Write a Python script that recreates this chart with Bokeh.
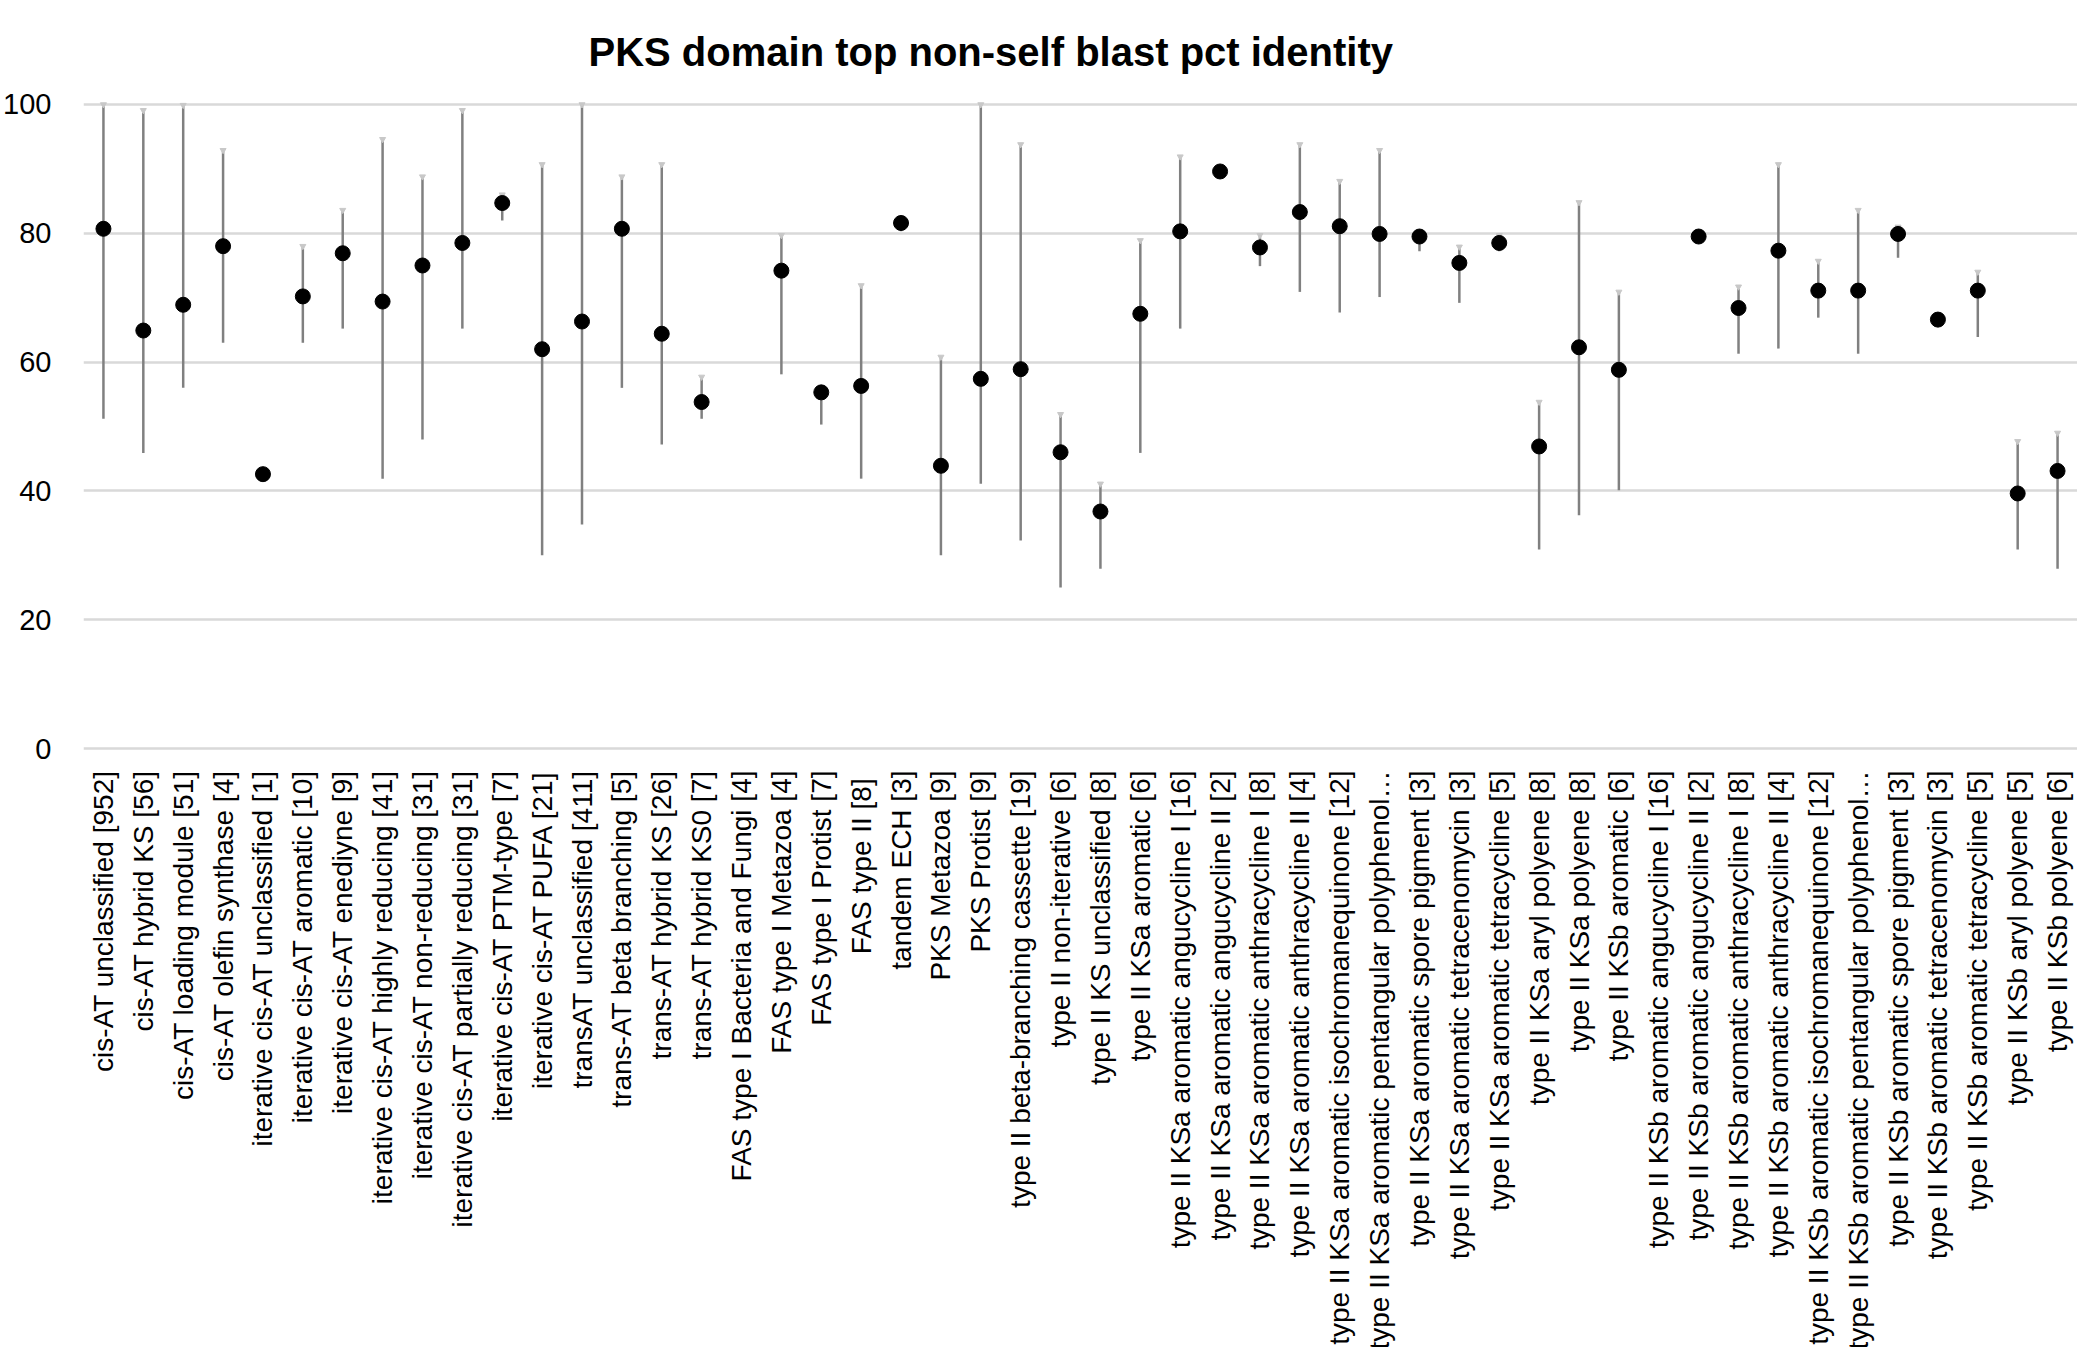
import math
from bokeh.plotting import figure
from bokeh.models import ColumnDataSource, FixedTicker, Range1d, FactorRange
from bokeh.embed import file_html
from bokeh.resources import INLINE

nan = float("nan")

title_text = "PKS domain top non-self blast pct identity"

categories = [
    "cis-AT unclassified [952]", "cis-AT hybrid KS [56]", "cis-AT loading module [51]",
    "cis-AT olefin synthase [4]", "iterative cis-AT unclassified [1]", "iterative cis-AT aromatic [10]",
    "iterative cis-AT enediyne [9]", "iterative cis-AT highly reducing [41]",
    "iterative cis-AT non-reducing [31]", "iterative cis-AT partially reducing [31]",
    "iterative cis-AT PTM-type [7]", "iterative cis-AT PUFA [21]", "transAT unclassified [411]",
    "trans-AT beta branching [5]", "trans-AT hybrid KS [26]", "trans-AT hybrid KS0 [7]",
    "FAS type I Bacteria and Fungi [4]", "FAS type I Metazoa [4]", "FAS type I Protist [7]",
    "FAS type II  [8]", "tandem ECH [3]", "PKS Metazoa [9]", "PKS Protist [9]",
    "type II beta-branching cassette [19]", "type II non-iterative [6]", "type II KS unclassified [8]",
    "type II KSa aromatic [6]", "type II KSa aromatic angucycline I [16]",
    "type II KSa aromatic angucycline II [2]", "type II KSa aromatic anthracycline I [8]",
    "type II KSa aromatic anthracycline II [4]", "type II KSa aromatic isochromanequinone [12]",
    "type II KSa aromatic pentangular polyphenol\u2026", "type II KSa aromatic spore pigment [3]",
    "type II KSa aromatic tetracenomycin [3]", "type II KSa aromatic tetracycline [5]",
    "type II KSa aryl polyene [8]", "type II KSa polyene [8]", "type II KSb aromatic [6]",
    "type II KSb aromatic angucycline I [16]", "type II KSb aromatic angucycline II [2]",
    "type II KSb aromatic anthracycline I [8]", "type II KSb aromatic anthracycline II [4]",
    "type II KSb aromatic isochromanequinone [12]", "type II KSb aromatic pentangular polyphenol\u2026",
    "type II KSb aromatic spore pigment [3]", "type II KSb aromatic tetracenomycin [3]",
    "type II KSb aromatic tetracycline [5]", "type II KSb aryl polyene [5]", "type II KSb polyene [6]",
]

mid_pct = [80.7, 64.9, 68.9, 78.0, 42.6, 70.2, 76.9, 69.4, 75.0, 78.5,
           84.7, 62.0, 66.3, 80.7, 64.4, 53.8, nan, 74.2, 55.3, 56.3,
           81.6, 43.9, 57.4, 58.9, 46.0, 36.8, 67.5, 80.3, 89.6, 77.8,
           83.3, 81.1, 79.9, 79.5, 75.4, 78.5, 46.9, 62.3, 58.8, nan,
           79.5, 68.4, 77.3, 71.1, 71.1, 79.9, 66.6, 71.1, 39.6, 43.1]

min_pct = [51.2, 45.9, 56.0, 63.0, nan, 63.0, 65.2, 41.9, 48.0, 65.2,
           82.0, 30.0, 34.8, 56.0, 47.2, 51.2, nan, 58.1, 50.3, 41.9,
           80.3, 30.0, 41.1, 32.3, 25.0, 27.9, 45.9, 65.2, nan, 74.9,
           70.9, 67.7, 70.1, 77.2, 69.2, 77.2, 30.9, 36.2, 40.1, nan,
           nan, 61.3, 62.1, 66.9, 61.3, 76.2, 65.4, 63.9, 30.9, 27.9]

max_pct = [100.0, 99.1, 99.9, 92.9, nan, 78.0, 83.6, 94.6, 88.8, 99.1,
           86.0, 90.7, 100.0, 88.8, 90.7, 57.7, nan, 79.7, 55.8, 71.9,
           81.9, 60.8, 100.0, 93.8, 51.9, 41.1, 78.9, 91.9, nan, 79.7,
           93.8, 88.1, 92.9, 80.0, 77.9, 79.7, 53.8, 84.8, 70.9, nan,
           nan, 71.7, 90.7, 75.7, 83.6, 81.0, 67.0, 74.0, 47.7, 49.0]

y_ticks = [0, 20, 40, 60, 80, 100]

src = ColumnDataSource(dict(cat=categories, mid=mid_pct, lo=min_pct, hi=max_pct))

FONT = "Liberation Sans"

p = figure(
    frame_width=1994, frame_height=652,
    x_range=FactorRange(*categories, range_padding=0),
    y_range=Range1d(-0.62, 100.62),
    output_backend="svg", toolbar_location=None,
    title=title_text,
    min_border_left=70, min_border_right=0, min_border_top=0, min_border_bottom=560,
)
p.outline_line_color = None
p.background_fill_color = "white"
p.border_fill_color = "white"

p.title.align = "left"
p.title.offset = 505
p.title.text_font = FONT
p.title.text_font_size = "40px"
p.title.text_font_style = "bold"
p.title.text_color = "#000000"
p.title.standoff = 54

p.xgrid.grid_line_color = None
p.ygrid.grid_line_color = "#d9d9d9"
p.ygrid.grid_line_width = 2.5

p.yaxis.ticker = FixedTicker(ticks=y_ticks)
p.yaxis.axis_line_color = None
p.yaxis.major_tick_line_color = None
p.yaxis.minor_tick_line_color = None
p.yaxis.major_label_text_font = FONT
p.yaxis.major_label_text_font_size = "29px"
p.yaxis.major_label_text_color = "#000000"
p.yaxis.major_label_standoff = 26

p.xaxis.axis_line_color = None
p.xaxis.major_tick_line_color = None
p.xaxis.minor_tick_line_color = None
p.xaxis.major_label_orientation = math.pi / 2
p.xaxis.major_label_text_font = FONT
p.xaxis.major_label_text_font_size = "28px"
p.xaxis.major_label_text_color = "#000000"
p.xaxis.major_label_standoff = 12

p.segment(x0="cat", y0="lo", x1="cat", y1="hi", source=src,
          line_color="#808080", line_width=2.5)
p.scatter(x="cat", y="hi", source=src, marker="inverted_triangle", size=6,
          fill_color="#c8c8c8", line_color="#c8c8c8")
p.scatter(x="cat", y="mid", source=src, marker="circle", size=15,
          fill_color="#000000", line_color="#000000")

open("out.html", "w").write(file_html(p, INLINE))
